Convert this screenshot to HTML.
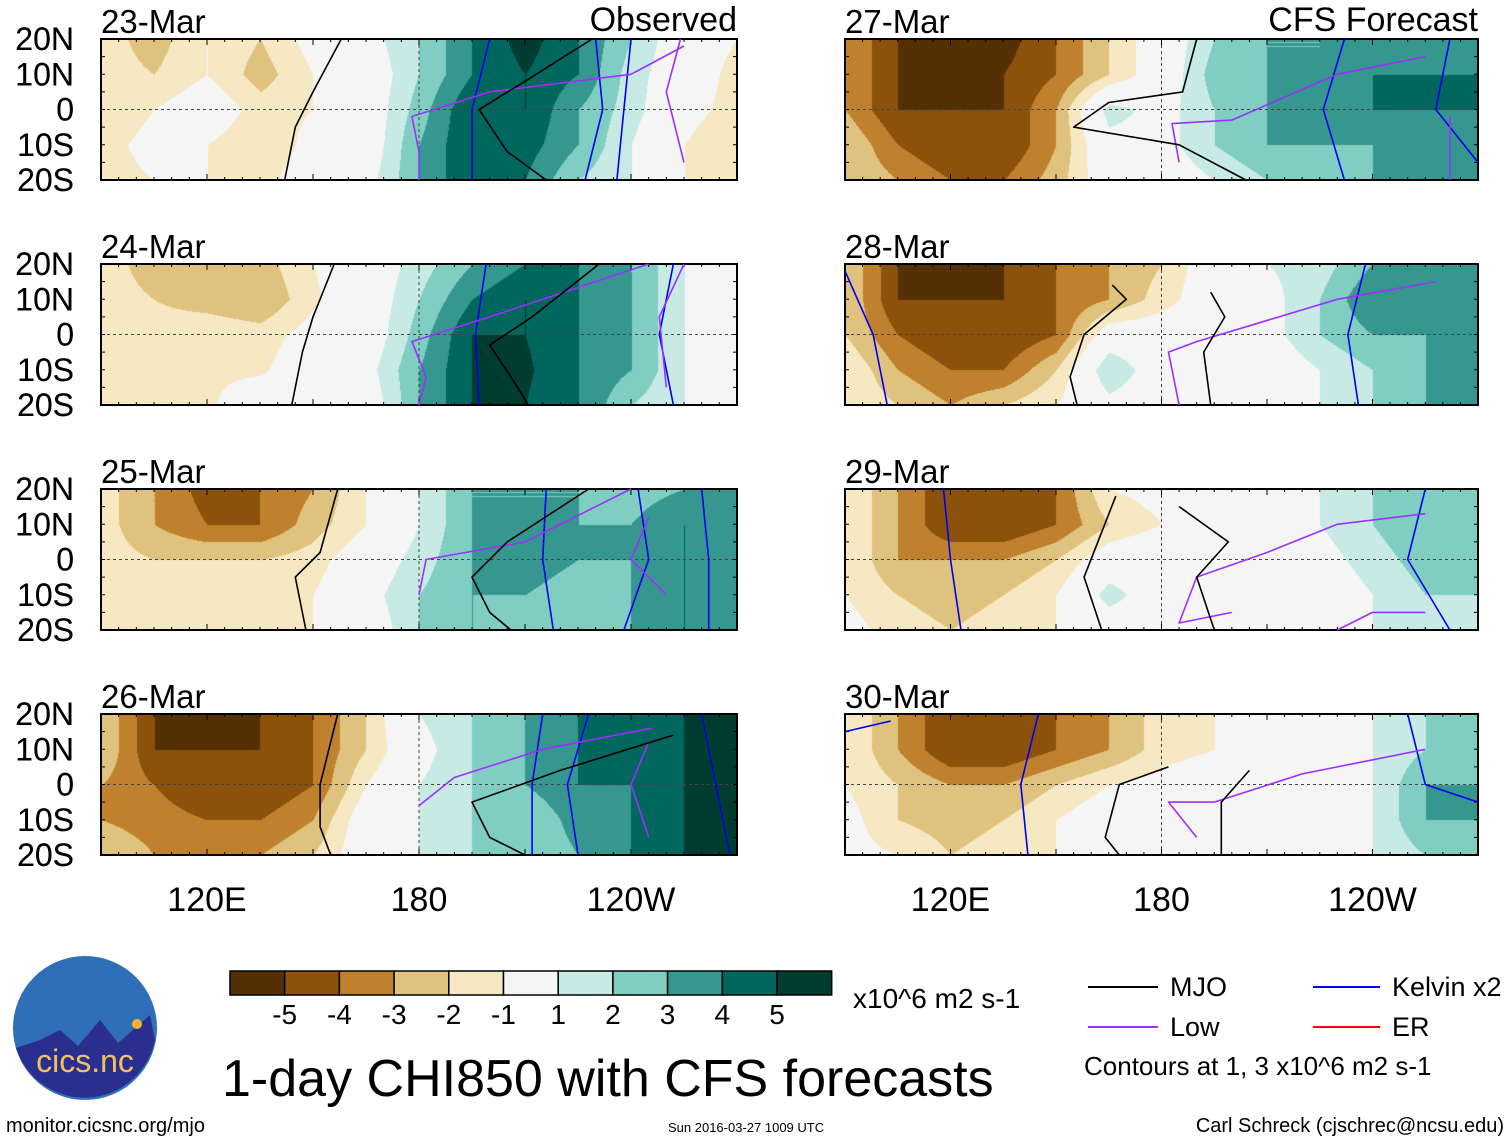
<!DOCTYPE html>
<html><head><meta charset="utf-8">
<style>
html,body{margin:0;padding:0;background:#fff;}
body{width:1510px;height:1142px;position:relative;overflow:hidden;font-family:"Liberation Sans",sans-serif;}
canvas{position:absolute;}
svg{position:absolute;left:0;top:0;}
</style></head>
<body>
<canvas id="fields" width="1510" height="1142" style="left:0;top:0"></canvas>
<svg id="ov" width="1510" height="1142"></svg>
<script>
// ---- data ----
const lons=[90,105,120,135,150,165,180,195,210,225,240,255,270];
const lats=[20,10,0,-10,-20];
const panelDates=["23-Mar","24-Mar","25-Mar","26-Mar","27-Mar","28-Mar","29-Mar","30-Mar"];
const levels=[-5,-4,-3,-2,-1,1,2,3,4,5];
const levelColors=["#543005","#8c510a","#bf812d","#dfc27d","#f6e8c3","#f5f5f5","#c7eae5","#80cdc1","#35978f","#01665e","#003c30"];
const f23=[[-1.5,-2.5,-1,-2,-0.5,0.5,2,4,5.5,4,2,0,-1],[-1.5,-2,-1,-2.5,-1,0,2,4,5,4,1.5,0,-1.5],[-2,-1,0,-1.5,-1,0,2.5,5,5,3,1.5,-0.5,-1.5],[-1.5,-0.5,-1,-2,-0.5,0,3,5,4.5,3,1,-1,-2],[-1.5,-1,-1,-1.5,0,0.5,3,5,4,2,1,-1,-2]];
const f24=[[-1.5,-2.5,-3,-2.5,-1,0,1.5,3,4,4,3,1,0.5],[-1.5,-2,-2.5,-3,-1.2,0,2,4,5,4,3,1,0],[-1.5,-1.5,-1.2,-1.5,-0.5,0,2.5,5,5,4,3,1,0],[-1.5,-1.2,-1.2,-1.2,0,0.5,3,5,5.2,4,3,1,0],[-1.5,-1.2,-1.2,0,0,0,3,5,5,4,2,1,0]];
const f25=[[-1.5,-3,-4.5,-4,-3,-1,1,3,3,3,2.5,3,3],[-1.5,-3,-4,-4,-2.5,-1,1,3,3,3,3,4,3],[-1.5,-2,-2,-2,-1.5,0,1.5,3,3.5,3,3,4,3],[-1.5,-1.5,-1.5,-1.2,-1,0.5,2,3,3,2.5,3,4,3.5],[-1.5,-1.5,-1.2,-1.2,-1,0,2,3,2.5,2.5,3,4,4]];
const f26=[[-2,-5,-5.5,-5,-4,-2,1,2,3,4,4,5,5],[-2,-5,-5,-5,-4,-2,0.5,2,3,4,4,5,5],[-3,-4,-5,-5,-4,-1,1,2,3,4,4,5,5],[-3,-3.5,-4,-4,-3,0,1,2,2,3.5,4,5,5],[-2,-3,-3,-3,-2,0,1,2,2,3,4,5,5]];
const f27=[[-3,-5,-5.5,-5.5,-4,-2,0,2,3,3,3,3,3.5],[-3,-5,-5.5,-5,-4,-2,0,2.5,3,3,4,4,4],[-3,-5,-5,-5,-3,1.5,0.5,2,3,3,4,4,4],[-2,-4,-5,-5,-3,0.5,0.5,2,3,3,3,3,4],[-2,-3,-4,-4,-2.5,0,0,1,2,2.5,3,3,4]];
const f28=[[-2,-5,-5.5,-5,-4,-3,-2,0,1,1.5,3,4,3],[-2,-5,-5,-5,-4,-3,-1.5,0,0.5,2,4,3,3],[-2,-4,-5,-5,-4,0,0,0.5,0.5,2,3,3,3],[-1,-3,-4,-4,-2,2,0,0,0,1,2,3,3],[-1,-2,-3,-2,-1,0.5,0,0,0,1,2,3,3]];
const f29=[[-1,-3,-5,-5,-4,-1,-0.5,0,0.5,1,2,3,2.5],[-1,-3,-5,-5,-4,-2,-1,0,0.5,1,2,3,2],[-1,-3,-3,-3,-2,0,0.5,0,0,0.5,1.5,2.5,2],[-1,-2,-2.5,-2,-1,1.5,0,0,0,0,1,2,2],[-0.5,-1.5,-2,-1.5,-1,0,0,0,0,0,1,2,1.5]];
const f30=[[-1,-3,-5,-5,-4,-3,-1.5,-1,-0.5,0,1,2,2],[-1,-3,-5,-5,-4,-3,-1.5,-1,0,0,1,2,2],[-1,-2,-3,-3,-2,-1,-0.5,0,0,0,1,3,3],[-0.5,-2,-2.5,-2,-1,0,0,0,0,0,1,3,3],[-0.5,-1,-2,-1.5,-1,0,0,0,0,0,1,2,2]];
const fields=[f23,f24,f25,f26,f27,f28,f29,f30];
// contour lines [lon,lat]
const mjoLines=[
 [[[158,20],[150,5],[145,-5],[142,-20]],[[229,20],[210,8],[197,0],[205,-12],[216,-20]]],
 [[[156,20],[150,5],[147,-5],[144,-20]],[[231,20],[212,5],[200,-3],[206,-12],[211,-20]]],
 [[[157,20],[152,2],[145,-5],[148,-20]],[[228,20],[205,5],[195,-5],[200,-15],[206,-20]]],
 [[[157,20],[152,0],[152,-12],[155,-20]],[[252,14],[220,4],[195,-5],[200,-15],[210,-20]]],
 [[[190,20],[186,5],[165,2],[155,-5],[185,-10],[204,-20]],[]],
 [[[166,14],[170,10],[158,0],[154,-12],[156,-20]],[[194,-20],[192,-5],[198,5],[194,12]]],
 [[[167,18],[158,-5],[163,-20]],[[195,-20],[190,-5],[199,5],[185,15]]],
 [[[182,5],[168,0],[164,-15],[168,-20]],[[205,4],[197,-5],[197,-20]]]
];
const lowLines=[
 [[[255,18],[240,10],[200,5],[178,-2],[180,-12],[180,-20]],[[254,20],[250,5],[255,-15]]],
 [[[245,20],[230,15],[200,5],[178,-2],[182,-12],[180,-20]],[[255,20],[248,5],[250,-15]]],
 [[[240,20],[210,5],[182,0],[180,-10]],[[245,12],[240,0],[250,-10]]],
 [[[246,16],[215,10],[190,2],[180,-6]],[[245,12],[240,0],[245,-15]]],
 [[[255,15],[230,10],[200,-3],[183,-4],[185,-15]],[[262,-2],[262,-20]]],
 [[[258,15],[230,10],[190,-2],[182,-5],[185,-20]],[]],
 [[[255,13],[230,10],[210,2],[190,-5],[185,-18],[200,-15]],[[255,-15],[240,-15],[230,-20]]],
 [[[255,10],[220,3],[195,-5],[182,-5],[190,-15]],[]]
];
const kelvinLines=[
 [[[200,20],[195,0],[195,-20]],[[230,20],[232,0],[227,-20]],[[240,20],[238,0],[236,-20]]],
 [[[199,20],[196,0],[197,-20]],[[252,20],[248,0],[252,-20]]],
 [[[216,20],[215,0],[218,-20]],[[242,20],[245,0],[238,-20]],[[260,20],[262,0],[262,-20]]],
 [[[215,20],[212,0],[212,-20]],[[228,20],[222,0],[225,-20]],[[260,20],[264,0],[268,-20]]],
 [[[232,20],[226,0],[232,-20]],[[262,20],[258,0],[270,-15]]],
 [[[90,18],[98,0],[102,-20]],[[238,20],[233,0],[236,-20]]],
 [[[118,20],[120,0],[123,-20]],[[255,20],[250,0],[262,-20]]],
 [[[90,15],[103,18]],[[145,20],[140,0],[142,-20]],[[250,20],[255,0],[270,-5]]]
];
// ---- geometry ----
const colX=[101,845], colW=[636,633], rowY=[39,264,489,714], PH=141;
function panelBox(i){return {x:colX[Math.floor(i/4)],w:colW[Math.floor(i/4)],y:rowY[i%4],h:PH};}
function xOf(b,lon){return b.x+(lon-90)*b.w/180;}
function yOf(b,lat){return b.y+(20-lat)*b.h/40;}
function colorOf(v){let k=0;while(k<levels.length&&v>=levels[k])k++;return levelColors[k];}
function hexRgb(h){return [parseInt(h.substr(1,2),16),parseInt(h.substr(3,2),16),parseInt(h.substr(5,2),16)];}
const cvs=document.getElementById('fields'),ctx=cvs.getContext('2d');
fields.forEach((F,i)=>{
  const b=panelBox(i);const img=ctx.createImageData(b.w,b.h);
  for(let py=0;py<b.h;py++){
    const lat=20-py*40/b.h;let r=(20-lat)/10;let r0=Math.min(3,Math.floor(r)),fr=r-r0;
    for(let px=0;px<b.w;px++){
      const lon=90+px*180/b.w;let c=(lon-90)/15;let c0=Math.min(11,Math.floor(c)),fc=c-c0;
      const v=(F[r0][c0]*(1-fc)+F[r0][c0+1]*fc)*(1-fr)+(F[r0+1][c0]*(1-fc)+F[r0+1][c0+1]*fc)*fr;
      const rgb=hexRgb(colorOf(v));const o=(py*b.w+px)*4;
      img.data[o]=rgb[0];img.data[o+1]=rgb[1];img.data[o+2]=rgb[2];img.data[o+3]=255;
    }
  }
  ctx.putImageData(img,b.x,b.y);
});
// ---- overlay ----
const NS="http://www.w3.org/2000/svg",svg=document.getElementById('ov');
function mk(t,a,p){const e=document.createElementNS(NS,t);for(const k in a)e.setAttribute(k,a[k]);(p||svg).appendChild(e);return e;}
function txt(s,a,p){const e=mk('text',a,p);e.textContent=s;return e;}
function drawLine(b,pts,color,name){
  const d=pts.map((p,k)=>(k?'L':'M')+xOf(b,p[0]).toFixed(1)+','+yOf(b,p[1]).toFixed(1)).join(' ');
  const e=mk('path',{d:d,fill:'none',stroke:color,'stroke-width':1.6,'stroke-linejoin':'round'});
  
  
}
fields.forEach((F,i)=>{
  const b=panelBox(i);
  const g=mk('g',{});
  
  
  mk('line',{x1:b.x,x2:b.x+b.w,y1:yOf(b,0),y2:yOf(b,0),stroke:'#444','stroke-width':1,'stroke-dasharray':'3,3'},g);
  mk('line',{x1:xOf(b,180),x2:xOf(b,180),y1:b.y,y2:b.y+b.h,stroke:'#444','stroke-width':1,'stroke-dasharray':'3,3'},g);
  kelvinLines[i].forEach(l=>drawLine(b,l,'#0000ee','kelvin-contour'));
  lowLines[i].forEach(l=>drawLine(b,l,'#9b30ff','low-contour'));
  mjoLines[i].forEach(l=>drawLine(b,l,'#000','mjo-contour'));
  mk('rect',{x:b.x,y:b.y,width:b.w,height:b.h,fill:'none',stroke:'#000','stroke-width':2},g);
  for(let lon=90;lon<=270;lon+=5){const x=xOf(b,lon);const L=lon%30==0?6:3;
    mk('line',{x1:x,x2:x,y1:b.y,y2:b.y+L,stroke:'#000','stroke-width':1},g);
    mk('line',{x1:x,x2:x,y1:b.y+b.h,y2:b.y+b.h-L,stroke:'#000','stroke-width':1},g);}
  for(let lat=-20;lat<=20;lat+=5){const y=yOf(b,lat);
    mk('line',{x1:b.x,x2:b.x+4,y1:y,y2:y,stroke:'#000'},g);mk('line',{x1:b.x+b.w,x2:b.x+b.w-4,y1:y,y2:y,stroke:'#000'},g);}
  const t=txt(panelDates[i],{x:b.x,y:b.y-6,'font-size':33,fill:'#000'},g);
  
  const latLab=['20N','10N','0','10S','20S'];
  latLab.forEach((s,k)=>{const e=txt(s,{x:74,y:yOf(b,lats[k])+11,'font-size':32,'text-anchor':'end'},g);
    });
});
txt('Observed',{x:737,y:31,'font-size':34,'text-anchor':'end',});
txt('CFS Forecast',{x:1478,y:31,'font-size':34,'text-anchor':'end',});
[[0,'120E',120],[0,'180',180],[0,'120W',240],[1,'120E',120],[1,'180',180],[1,'120W',240]].forEach(a=>{
  const b={x:colX[a[0]],w:colW[a[0]]};
  txt(a[1],{x:xOf(b,a[2]),y:911,'font-size':34,'text-anchor':'middle',});
});
levelColors.forEach((c,k)=>{
  const e=mk('rect',{x:230+k*54.7,y:971,width:54.7,height:24,fill:c,stroke:'#000','stroke-width':1.5});
  
});
levels.forEach((v,k)=>{
  const e=txt(String(v),{x:230+(k+1)*54.7,y:1024,'font-size':28,'text-anchor':'middle'});
  
});
</script>
<svg width="1510" height="1142" style="pointer-events:none">
 <text x="853" y="1008" font-size="28">x10^6 m2 s-1</text>
 <text x="222" y="1096" font-size="52">1-day CHI850 with CFS forecasts</text>
 <g>
  <line x1="1088" x2="1158" y1="987" y2="987" stroke="#000" stroke-width="2"/>
  <text x="1170" y="996" font-size="27">MJO</text>
  <line x1="1088" x2="1158" y1="1027" y2="1027" stroke="#9b30ff" stroke-width="2"/>
  <text x="1170" y="1036" font-size="27">Low</text>
  <line x1="1313" x2="1380" y1="987" y2="987" stroke="#0000ee" stroke-width="2"/>
  <text x="1392" y="996" font-size="27">Kelvin x2</text>
  <line x1="1313" x2="1380" y1="1027" y2="1027" stroke="#ff0000" stroke-width="2"/>
  <text x="1392" y="1036" font-size="27">ER</text>
  <text x="1084" y="1075" font-size="26">Contours at 1, 3 x10^6 m2 s-1</text>
 </g>
 <g>
  <circle cx="85" cy="1028" r="72" fill="#2f6fb8"/>
  <path d="M16 1048 L40 1040 L60 1030 L78 1046 L100 1020 L118 1043 L150 1015 L155 1040 A72 72 0 0 1 16 1048Z" fill="#2a2f8f"/>
  <circle cx="137" cy="1024" r="5" fill="#f8b030"/>
  <text x="85" y="1072" font-size="32" fill="#f3c060" text-anchor="middle">cics.nc</text>
 </g>
 <text x="6" y="1132" font-size="20">monitor.cicsnc.org/mjo</text>
 <text x="668" y="1132" font-size="13">Sun 2016-03-27 1009 UTC</text>
 <text x="1504" y="1132" font-size="20" text-anchor="end">Carl Schreck (cjschrec@ncsu.edu)</text>
</svg>
</body></html>
